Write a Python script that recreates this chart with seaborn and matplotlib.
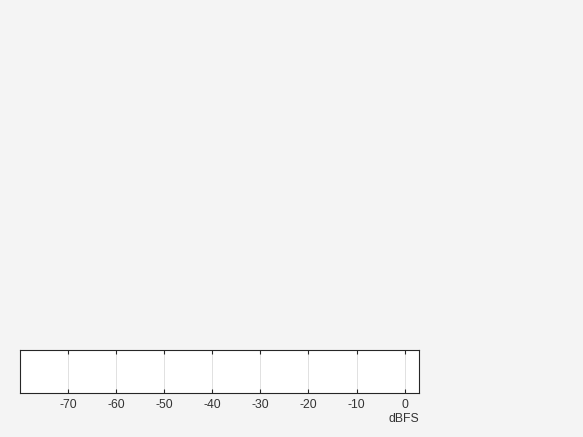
import matplotlib
matplotlib.use("Agg")
import matplotlib.pyplot as plt
import seaborn as sns

# meter scale
x_ticks = [-70, -60, -50, -40, -30, -20, -10, 0]
x_tick_labels = ["-70", "-60", "-50", "-40", "-30", "-20", "-10", "0"]
x_range = [-80, 3]
x_label = "dBFS"

sns.set_style("white")
plt.rcParams['font.family'] = ['Liberation Sans', 'DejaVu Sans']

fig = plt.figure(figsize=(5.83, 4.37), dpi=100, facecolor="#f4f4f4")
ax = fig.add_axes([20 / 583, 44 / 437, 399 / 583, 43 / 437])
ax.set_facecolor("white")

ax.set_xlim(x_range)
ax.set_ylim(0, 1)
ax.set_xticks(x_ticks)
ax.set_xticklabels(x_tick_labels)
ax.set_yticks([])
ax.grid(True, axis="x", color="#dcdcdc", linewidth=0.6)
ax.tick_params(axis="x", direction="in", top=True, bottom=True, length=3,
               width=0.8, color="#262626", labelsize=8.8, labelcolor="#333333", pad=4)
for s in ax.spines.values():
    s.set_color("#262626")
    s.set_linewidth(0.8)
    s.set_visible(True)

ax.set_xlabel(x_label, fontsize=8.8, color="#333333", labelpad=1)
ax.xaxis.set_label_coords(1.0, -0.46)
ax.xaxis.label.set_horizontalalignment("right")

fig.savefig("out.png", dpi=100, facecolor=fig.get_facecolor())
